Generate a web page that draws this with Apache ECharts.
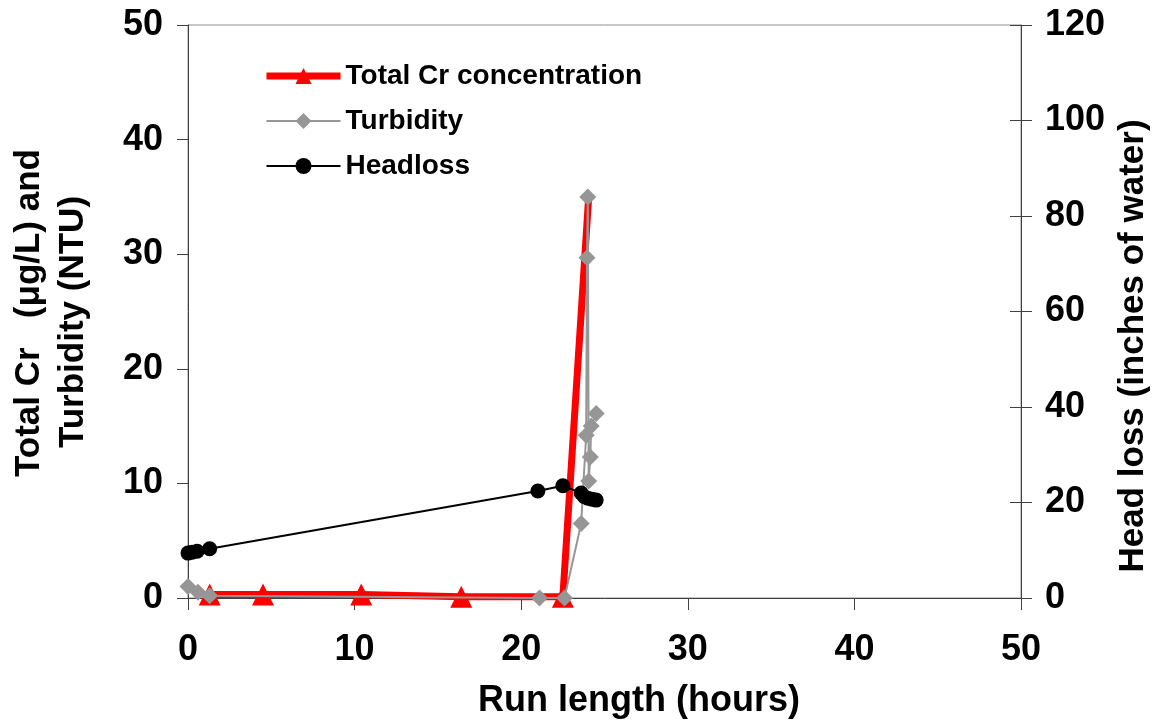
<!DOCTYPE html>
<html>
<head>
<meta charset="utf-8">
<script src="https://cdn.jsdelivr.net/npm/echarts@6/dist/echarts.min.js"></script>
<style>html,body{margin:0;padding:0;background:#fff}#c{width:1158px;height:723px}</style>
</head>
<body>
<div id="c"></div>
<script>
// Data
const crHours = [1.3, 4.5, 10.4, 16.4, 22.5, 24.05];
const crValues = [0.3, 0.3, 0.3, 0.1, 0.1, 35.0];

const turbHours = [0, 0.6, 1.3, 21.1, 22.6, 23.6, 23.9, 23.95, 24.0, 24.05, 24.15, 24.2, 24.5];
const turbValues = [1.0, 0.5, 0.2, 0.0, 0.0, 6.5, 14.2, 29.7, 35.0, 10.2, 12.3, 15.0, 16.1];

const headHours = [0, 0.25, 0.55, 1.3, 21.0, 22.5, 23.6, 23.8, 24.0, 24.25, 24.5];
const headValues = [9.4, 9.6, 9.8, 10.3, 22.4, 23.5, 22.0, 21.2, 20.9, 20.7, 20.5];

const seriesNames = ['Total Cr concentration', 'Turbidity', 'Headloss'];
const xTitle = 'Run length (hours)';
const yTitleLine1 = 'Total Cr   (\u03bcg/L) and';
const yTitleLine2 = 'Turbidity (NTU)';
const y2Title = 'Head loss (inches of water)';

const pair = (xs, ys) => xs.map((x, i) => [x, ys[i]]);
const FONT = 'Liberation Sans, Arial, sans-serif';
const axisColor = '#404040';
const labelStyle = { fontFamily: FONT, fontWeight: 'bold', fontSize: 36, color: '#000' };

// last Cr point's marker is hidden under the turbidity marker in the reference
const crData = pair(crHours, crValues).map((v, i, a) =>
  i === a.length - 1 ? { value: v, symbol: 'none' } : v);

const chart = echarts.init(document.getElementById('c'));
chart.setOption({
  animation: false,
  backgroundColor: '#fff',
  grid: { left: 188, right: 137, top: 25, bottom: 125, show: true, borderColor: '#909090', borderWidth: 1 },
  legend: {
    orient: 'vertical', left: 258, top: 57, itemWidth: 74, itemHeight: 20, itemGap: 17,
    data: [
      { name: seriesNames[0], lineStyle: { width: 7, color: '#ff0000' } },
      { name: seriesNames[1] },
      { name: seriesNames[2] }
    ],
    textStyle: { fontFamily: FONT, fontWeight: 'bold', fontSize: 28, color: '#000' }
  },
  xAxis: {
    type: 'value', min: 0, max: 50, interval: 10,
    axisLine: { onZero: false, lineStyle: { color: axisColor, width: 1 } },
    axisTick: { show: true, length: 12, lineStyle: { color: axisColor } },
    splitLine: { show: false },
    axisLabel: Object.assign({ margin: 34 }, labelStyle)
  },
  yAxis: [
    {
      type: 'value', min: 0, max: 50, interval: 10, position: 'left',
      axisLine: { show: true, lineStyle: { color: axisColor, width: 1 } },
      axisTick: { show: true, length: 11, lineStyle: { color: axisColor } },
      splitLine: { show: false },
      axisLabel: Object.assign({ margin: 25 }, labelStyle)
    },
    {
      type: 'value', min: 0, max: 120, interval: 20, position: 'right',
      axisLine: { show: true, lineStyle: { color: axisColor, width: 1 } },
      axisTick: { show: true, length: 11, lineStyle: { color: axisColor } },
      splitLine: { show: false },
      axisLabel: Object.assign({ margin: 24 }, labelStyle)
    },
    {
      type: 'value', min: 0, max: 120, interval: 20, position: 'right',
      axisLine: { show: false },
      axisTick: { show: true, inside: true, length: 11, lineStyle: { color: axisColor } },
      splitLine: { show: false },
      axisLabel: { show: false }
    }
  ],
  series: [
    {
      name: seriesNames[0], type: 'line', yAxisIndex: 0,
      data: crData,
      symbol: 'triangle', symbolSize: 22,
      lineStyle: { color: '#ff0000', width: 7 },
      itemStyle: { color: '#ff0000' },
      clip: false, z: 2
    },
    {
      name: seriesNames[1], type: 'line', yAxisIndex: 0,
      data: pair(turbHours, turbValues),
      symbol: 'diamond', symbolSize: 17,
      lineStyle: { color: '#969696', width: 2 },
      itemStyle: { color: '#969696' },
      clip: false, z: 3
    },
    {
      name: seriesNames[2], type: 'line', yAxisIndex: 1,
      data: pair(headHours, headValues),
      symbol: 'circle', symbolSize: 15,
      lineStyle: { color: '#000', width: 2 },
      itemStyle: { color: '#000' },
      clip: false, z: 4
    }
  ],
  graphic: [
    { type: 'text', x: 639, y: 701, style: { text: xTitle, font: 'bold 36px ' + FONT, fill: '#000', align: 'center', verticalAlign: 'middle', textAlign: 'center', textVerticalAlign: 'middle' } },
    { type: 'text', x: 29, y: 313, rotation: Math.PI / 2, style: { text: yTitleLine1, font: 'bold 35px ' + FONT, fill: '#000', align: 'center', verticalAlign: 'middle', textAlign: 'center', textVerticalAlign: 'middle' } },
    { type: 'text', x: 73, y: 322, rotation: Math.PI / 2, style: { text: yTitleLine2, font: 'bold 35px ' + FONT, fill: '#000', align: 'center', verticalAlign: 'middle', textAlign: 'center', textVerticalAlign: 'middle' } },
    { type: 'text', x: 1133, y: 346, rotation: Math.PI / 2, style: { text: y2Title, font: 'bold 35px ' + FONT, fill: '#000', align: 'center', verticalAlign: 'middle', textAlign: 'center', textVerticalAlign: 'middle' } }
  ]
});
</script>
</body>
</html>
